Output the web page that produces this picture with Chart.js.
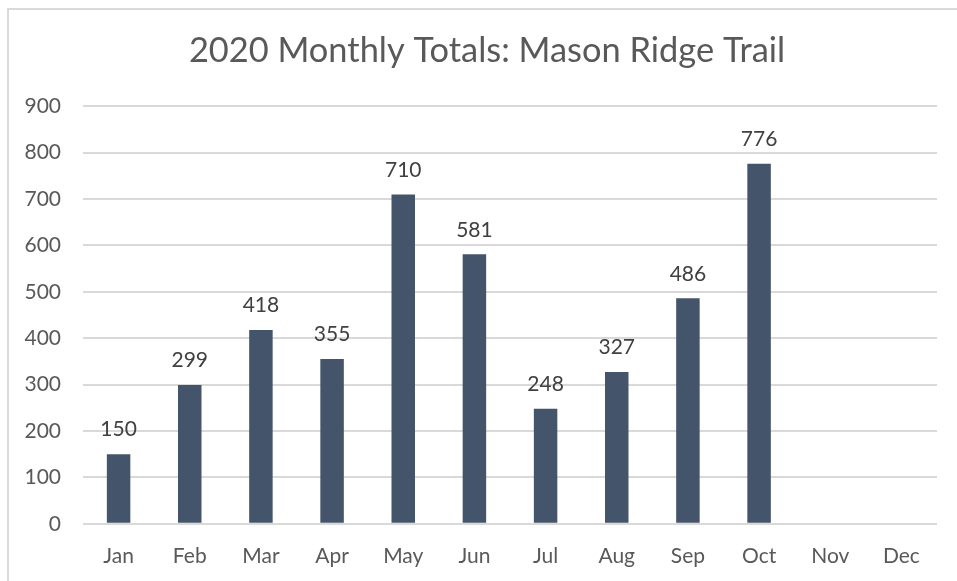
<!DOCTYPE html>
<html>
<head>
<meta charset="utf-8">
<script src="https://cdn.jsdelivr.net/npm/chart.js@4"></script>
<style>
  body { margin: 0; background: #fff; }
  #frame { position: absolute; left: 7px; top: 8px; width: 980px; height: 600px; border: 2px solid #d9d9d9; box-sizing: border-box; }
  #wrap { position: absolute; left: 0; top: 0; width: 957px; height: 581px; }
</style>
</head>
<body>
<div id="frame"></div>
<div id="wrap"><canvas id="myChart"></canvas></div>
<script>
const months = ['Jan','Feb','Mar','Apr','May','Jun','Jul','Aug','Sep','Oct','Nov','Dec'];
const totals = [150, 299, 418, 355, 710, 581, 248, 327, 486, 776, null, null];
const yTicks = [0, 100, 200, 300, 400, 500, 600, 700, 800, 900];
const chartTitle = '2020 Monthly Totals: Mason Ridge Trail';

// labels above each bar
const barLabels = {
  id: 'barLabels',
  afterDatasetsDraw(chart) {
    const ctx = chart.ctx;
    const meta = chart.getDatasetMeta(0);
    ctx.save();
    ctx.font = '21px Lato';
    ctx.fillStyle = '#404040';
    ctx.textAlign = 'center';
    ctx.textBaseline = 'bottom';
    meta.data.forEach((bar, i) => {
      if (totals[i] == null) return;
      ctx.fillText(totals[i], bar.x, bar.y - 14);
    });
    ctx.restore();
  }
};

const ctx = document.getElementById('myChart').getContext('2d');
const myChart = new Chart(ctx, {
  type: 'bar',
  data: {
    labels: months,
    datasets: [{
      data: totals,
      backgroundColor: '#44546a',
      borderWidth: 0,
      categoryPercentage: 1,
      barPercentage: 0.33
    }]
  },
  options: {
    responsive: true,
    maintainAspectRatio: false,
    animation: false,
    layout: { padding: { left: 37, right: 20, top: 0, bottom: 0 } },
    plugins: {
      legend: { display: false },
      tooltip: { enabled: false },
      title: {
        display: true,
        text: chartTitle,
        color: '#595959',
        font: { family: 'Lato', size: 34.4, weight: 'normal' },
        padding: { top: 30, bottom: 35 }
      }
    },
    scales: {
      x: {
        grid: { display: false },
        border: { display: false },
        ticks: { color: '#595959', font: { family: 'Lato', size: 21 }, padding: 12 }
      },
      y: {
        min: 0,
        max: 900,
        afterFit(scale) {
          scale.width = 46;
          // labels hang out into the left padding, so don't clip them
          scale._computeLabelArea = () => undefined;
        },
        afterBuildTicks(scale) { scale.ticks = yTicks.map(v => ({ value: v })); },
        grid: { color: '#d9d9d9', lineWidth: 2, drawTicks: false },
        border: { display: false },
        ticks: { color: '#595959', font: { family: 'Lato', size: 21 }, padding: 22 }
      }
    }
  },
  plugins: [barLabels]
});
</script>
</body>
</html>
